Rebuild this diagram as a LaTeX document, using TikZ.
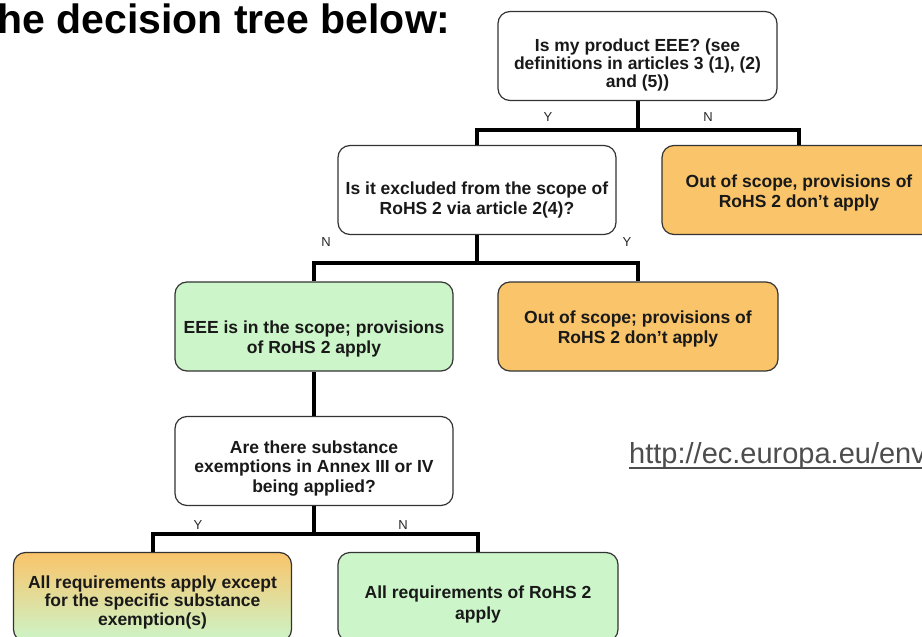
\documentclass[tikz,border=0pt]{standalone}
\usepackage{fontspec}
\setmainfont{Liberation Sans}
\usetikzlibrary{calc}
\definecolor{orangeF}{HTML}{F9C46A}
\definecolor{greenF}{HTML}{CCF5C9}
\definecolor{urlgray}{HTML}{4D4D4D}
\begin{document}
\begin{tikzpicture}[x=1pt,y=-1pt,
  box/.style={draw=black!80, line width=1.2pt, rounded corners=12pt,
    minimum width=#1, minimum height=89pt, align=center, inner sep=0pt,
    font=\fontsize{17.5}{20}\bfseries\selectfont, text=black!90, text depth=8pt},
  conn/.style={line width=4pt, black, line join=miter},
  yn/.style={font=\fontsize{13}{15}\selectfont, text=black!85, inner sep=0pt}]
\useasboundingbox (0,0) rectangle (922,637);
\node[anchor=base west, inner sep=0pt, font=\fontsize{41}{48}\bfseries\selectfont] (title) at (-3,33) {he decision tree below:};
\node[box=279pt, fill=white, text height=70pt, font=\fontsize{17.5}{18}\bfseries\selectfont] (b1) at (637.5,56) {Is my product EEE? (see\\definitions in articles 3 (1), (2)\\and (5))};
\node[box=278pt, fill=white, text height=56pt] (b2) at (477,190) {Is it excluded from the scope of\\RoHS 2 via article 2(4)?};
\node[box=274pt, fill=orangeF, text height=42pt] (b3) at (799,190) {Out of scope, provisions of\\RoHS 2 don't apply};
\node[box=278pt, fill=greenF, text height=61pt] (b4) at (314,326.5) {EEE is in the scope; provisions\\of RoHS 2 apply};
\node[box=280pt, fill=orangeF, text height=42pt] (b5) at (638,326.5) {Out of scope; provisions of\\RoHS 2 don't apply};
\node[box=278pt, fill=white, text height=70pt, font=\fontsize{17.5}{19.5}\bfseries\selectfont] (b6) at (314,461) {Are there substance\\exemptions in Annex III or IV\\being applied?};
\node[box=278pt, top color=orangeF, bottom color=greenF, text height=64pt, font=\fontsize{17.5}{18.5}\bfseries\selectfont] (b7) at (152.5,597) {All requirements apply except\\for the specific substance\\exemption(s)};
\node[box=280pt, fill=greenF, text height=52pt, font=\fontsize{17.5}{21}\bfseries\selectfont] (b8) at (478,597) {All requirements of RoHS 2\\apply};
\draw[conn] (b1.south) -- ++(0,29) -| (b2.north);
\draw[conn] (b1.south) -- ++(0,29) -| (b3.north);
\draw[conn] (b2.south) -- ++(0,28) -| (b4.north);
\draw[conn] (b2.south) -- ++(0,28) -| (b5.north);
\draw[conn] (b4.south) -- (b6.north);
\draw[conn] (b6.south) -- ++(0,28) -| (b7.north);
\draw[conn] (b6.south) -- ++(0,28) -| (b8.north);
\node[yn] (y1) at (548,117) {Y};
\node[yn] (n1) at (708,117) {N};
\node[yn] (n2) at (326,242) {N};
\node[yn] (y2) at (627,242) {Y};
\node[yn] (y3) at (198,525) {Y};
\node[yn] (n3) at (403,525) {N};
\node[anchor=base west, inner sep=0pt, text=urlgray, font=\fontsize{29}{34}\selectfont] (url) at (629,463) {http://ec.europa.eu/env};
\draw[urlgray, line width=1.8pt] ($(url.base west)+(0,5)$) -- ($(url.base east)+(0,5)$);
\end{tikzpicture}
\end{document}
